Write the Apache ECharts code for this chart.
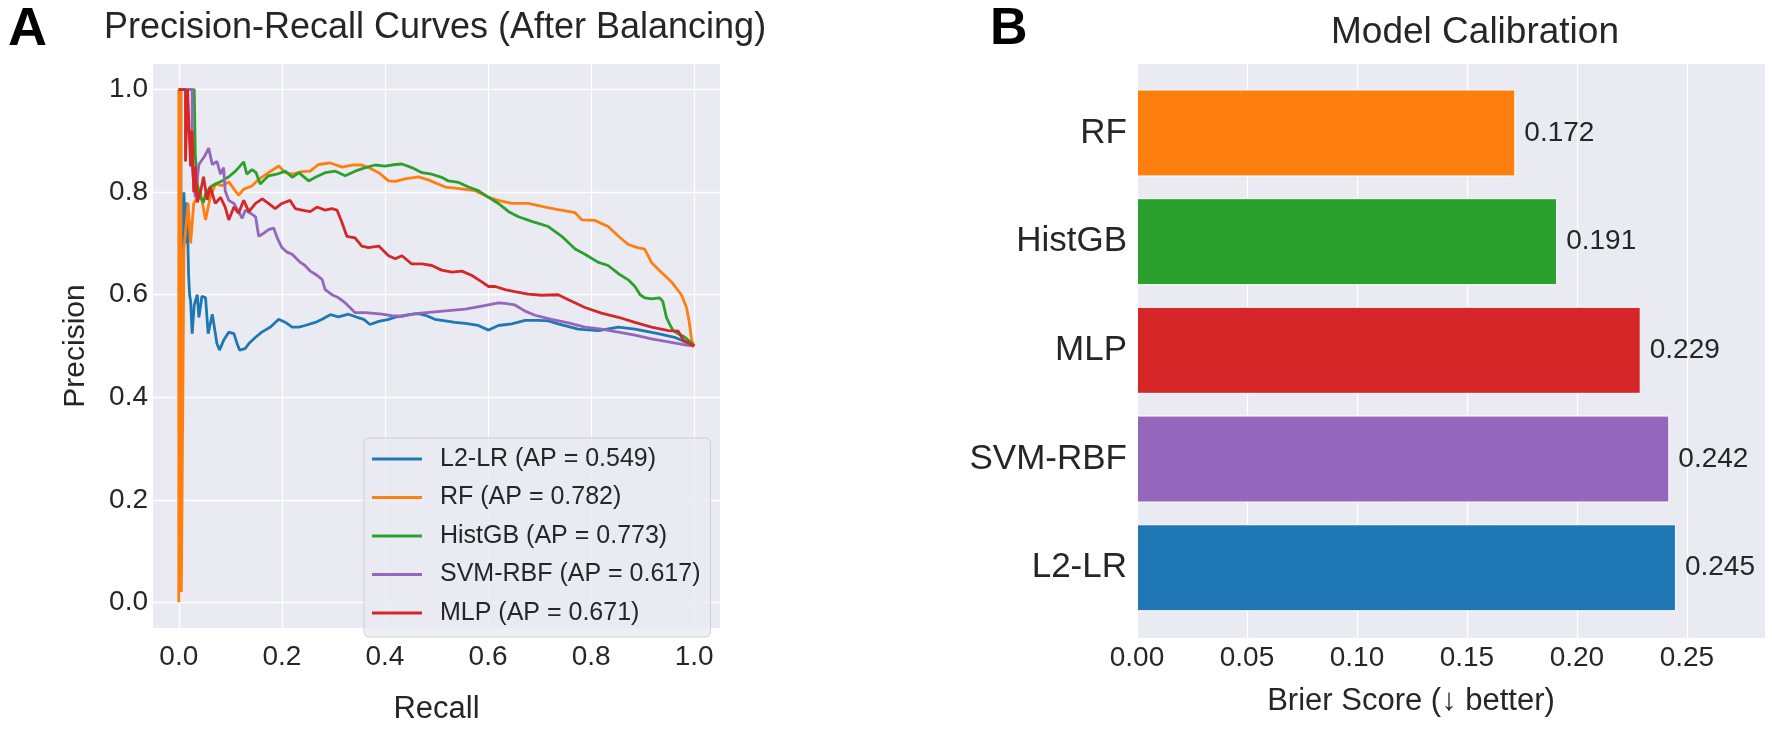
<!DOCTYPE html>
<html>
<head>
<meta charset="utf-8">
<script src="https://cdn.jsdelivr.net/npm/echarts@6/dist/echarts.min.js"></script>
<style>
html,body{margin:0;padding:0;background:#fff;}
#chart{width:1772px;height:730px;}
</style>
</head>
<body>
<div id="chart"></div>
<script>
// ---------- DATA ----------
const prModels = ['L2-LR', 'RF', 'HistGB', 'SVM-RBF', 'MLP'];
const apScores = [0.549, 0.782, 0.773, 0.617, 0.671];
const prTicks = [0, 0.2, 0.4, 0.6, 0.8, 1.0];

// [recall, precision]
const prL2LR = [[0,1.0],[0.004,1.0],[0.004,0.80],[0.007,0.66],[0.010,0.80],[0.013,0.70],[0.016,0.78],[0.019,0.64],[0.021,0.60],[0.023,0.587],[0.026,0.524],[0.030,0.58],[0.036,0.60],[0.039,0.556],[0.045,0.597],[0.052,0.594],[0.057,0.524],[0.065,0.562],[0.074,0.505],[0.079,0.492],[0.087,0.511],[0.097,0.527],[0.107,0.524],[0.113,0.505],[0.118,0.492],[0.129,0.495],[0.136,0.505],[0.149,0.517],[0.161,0.527],[0.178,0.537],[0.194,0.552],[0.207,0.546],[0.220,0.537],[0.233,0.537],[0.245,0.540],[0.265,0.546],[0.278,0.552],[0.294,0.561],[0.310,0.557],[0.329,0.562],[0.346,0.556],[0.359,0.552],[0.371,0.542],[0.388,0.548],[0.407,0.552],[0.423,0.557],[0.446,0.561],[0.465,0.563],[0.481,0.559],[0.497,0.552],[0.517,0.549],[0.536,0.546],[0.556,0.544],[0.581,0.540],[0.601,0.531],[0.620,0.540],[0.646,0.543],[0.672,0.550],[0.698,0.550],[0.717,0.549],[0.736,0.543],[0.775,0.533],[0.814,0.530],[0.853,0.537],[0.885,0.533],[0.930,0.524],[0.962,0.517],[1.0,0.50]];
const prRF = [[0,0],[0,1.0],[0.004,1.0],[0.005,0.02],[0.010,0.689],[0.018,0.778],[0.023,0.70],[0.029,0.778],[0.036,0.79],[0.042,0.80],[0.052,0.746],[0.061,0.79],[0.071,0.816],[0.084,0.813],[0.097,0.82],[0.116,0.794],[0.126,0.806],[0.142,0.812],[0.155,0.825],[0.174,0.838],[0.194,0.851],[0.207,0.838],[0.220,0.835],[0.239,0.840],[0.255,0.841],[0.271,0.854],[0.294,0.857],[0.317,0.849],[0.336,0.853],[0.355,0.853],[0.368,0.848],[0.388,0.838],[0.407,0.822],[0.420,0.821],[0.439,0.826],[0.465,0.830],[0.484,0.824],[0.517,0.810],[0.536,0.808],[0.575,0.803],[0.601,0.790],[0.620,0.784],[0.646,0.778],[0.678,0.778],[0.711,0.771],[0.736,0.766],[0.769,0.760],[0.782,0.746],[0.807,0.745],[0.833,0.733],[0.853,0.714],[0.872,0.698],[0.890,0.692],[0.904,0.689],[0.917,0.663],[0.936,0.644],[0.956,0.625],[0.975,0.600],[0.985,0.575],[0.990,0.549],[0.995,0.511],[1.0,0.50]];
const prHistGB = [[0,1.0],[0.030,1.0],[0.032,0.873],[0.036,0.816],[0.042,0.790],[0.048,0.780],[0.052,0.797],[0.061,0.810],[0.071,0.816],[0.084,0.822],[0.097,0.830],[0.110,0.841],[0.126,0.859],[0.132,0.835],[0.142,0.844],[0.150,0.838],[0.158,0.816],[0.174,0.832],[0.190,0.835],[0.207,0.841],[0.220,0.829],[0.233,0.838],[0.252,0.822],[0.265,0.829],[0.284,0.838],[0.304,0.841],[0.323,0.832],[0.342,0.841],[0.362,0.848],[0.381,0.853],[0.400,0.851],[0.420,0.854],[0.433,0.855],[0.452,0.848],[0.472,0.838],[0.491,0.835],[0.510,0.829],[0.523,0.822],[0.543,0.819],[0.562,0.810],[0.581,0.803],[0.601,0.790],[0.620,0.778],[0.640,0.762],[0.659,0.752],[0.685,0.743],[0.717,0.733],[0.743,0.714],[0.769,0.689],[0.788,0.679],[0.814,0.663],[0.833,0.657],[0.853,0.641],[0.872,0.629],[0.885,0.616],[0.895,0.600],[0.904,0.594],[0.917,0.592],[0.933,0.594],[0.939,0.587],[0.946,0.556],[0.952,0.543],[0.959,0.530],[0.969,0.524],[0.982,0.517],[0.992,0.508],[1.0,0.50]];
const prSVM = [[0,1.0],[0.026,1.0],[0.026,0.848],[0.032,0.79],[0.039,0.854],[0.050,0.870],[0.058,0.886],[0.065,0.854],[0.074,0.860],[0.081,0.835],[0.087,0.848],[0.090,0.803],[0.097,0.784],[0.107,0.778],[0.116,0.762],[0.123,0.749],[0.129,0.765],[0.139,0.759],[0.149,0.752],[0.155,0.714],[0.165,0.720],[0.174,0.727],[0.184,0.730],[0.191,0.711],[0.200,0.692],[0.210,0.683],[0.220,0.679],[0.236,0.663],[0.245,0.657],[0.255,0.646],[0.265,0.640],[0.278,0.630],[0.284,0.610],[0.297,0.600],[0.310,0.594],[0.323,0.584],[0.336,0.571],[0.342,0.565],[0.362,0.565],[0.394,0.562],[0.413,0.559],[0.433,0.558],[0.459,0.563],[0.491,0.566],[0.523,0.569],[0.556,0.572],[0.588,0.578],[0.620,0.584],[0.633,0.583],[0.652,0.580],[0.672,0.568],[0.691,0.560],[0.723,0.552],[0.756,0.545],[0.788,0.537],[0.820,0.533],[0.853,0.527],[0.885,0.521],[0.917,0.514],[0.950,0.508],[0.982,0.502],[1.0,0.50]];
const prMLP = [[0,1.0],[0.013,1.0],[0.013,0.86],[0.017,1.0],[0.019,1.0],[0.021,0.90],[0.023,0.85],[0.026,0.92],[0.029,0.80],[0.032,0.85],[0.036,0.78],[0.042,0.80],[0.048,0.83],[0.055,0.785],[0.061,0.81],[0.071,0.778],[0.081,0.79],[0.090,0.771],[0.097,0.746],[0.107,0.771],[0.116,0.759],[0.126,0.784],[0.136,0.762],[0.149,0.778],[0.162,0.787],[0.174,0.778],[0.187,0.768],[0.200,0.778],[0.216,0.784],[0.226,0.768],[0.239,0.765],[0.255,0.762],[0.268,0.771],[0.284,0.765],[0.297,0.768],[0.307,0.765],[0.317,0.740],[0.326,0.714],[0.342,0.711],[0.355,0.695],[0.368,0.692],[0.388,0.695],[0.407,0.676],[0.420,0.670],[0.433,0.676],[0.452,0.660],[0.472,0.660],[0.491,0.657],[0.510,0.648],[0.530,0.644],[0.549,0.646],[0.568,0.638],[0.588,0.625],[0.601,0.616],[0.614,0.616],[0.633,0.610],[0.652,0.606],[0.678,0.601],[0.704,0.599],[0.736,0.600],[0.756,0.590],[0.788,0.575],[0.820,0.564],[0.853,0.556],[0.885,0.546],[0.917,0.537],[0.950,0.530],[0.969,0.529],[0.979,0.511],[1.0,0.50]];

const calibModels = ['RF', 'HistGB', 'MLP', 'SVM-RBF', 'L2-LR'];
const brierScores = [0.172, 0.191, 0.229, 0.242, 0.245];
const brierTicks = [0, 0.05, 0.10, 0.15, 0.20, 0.25];

// ---------- STYLE ----------
const modelColors = {'L2-LR':'#1f77b4','RF':'#ff7f0e','HistGB':'#2ca02c','SVM-RBF':'#9467bd','MLP':'#d62728'};
const prCurves = [prL2LR, prRF, prHistGB, prSVM, prMLP];
const TXT = '#262626';
const SANS = '"Liberation Sans",Arial,Helvetica,sans-serif';
const BG = '#eaeaf2';

const chart = echarts.init(document.getElementById('chart'), null, {renderer:'canvas'});

const prSeries = prModels.map((m, i) => ({
  type: 'line',
  name: `${m} (AP = ${apScores[i].toFixed(3)})`,
  xAxisIndex: 0, yAxisIndex: 0,
  data: prCurves[i],
  showSymbol: false, symbol: 'none',
  clip: false,
  lineStyle: {width: 2.8, color: modelColors[m]},
  itemStyle: {color: modelColors[m]},
  z: 3 + i
}));

const option = {
  backgroundColor: '#fff',
  animation: false,
  title: [
    {text: 'A', left: 3, top: -2, textStyle: {fontFamily: SANS, fontWeight: 'bold', fontSize: 54, color: '#000'}},
    {text: 'Precision-Recall Curves (After Balancing)', left: 430, top: 5, textAlign: 'center', textStyle: {fontFamily: SANS, fontWeight: 'normal', fontSize: 36, color: TXT}},
    {text: 'B', left: 985, top: -1, textStyle: {fontFamily: SANS, fontWeight: 'bold', fontSize: 52, color: '#000'}},
    {text: 'Model Calibration', left: 1470, top: 9, textAlign: 'center', textStyle: {fontFamily: SANS, fontWeight: 'normal', fontSize: 37, color: TXT}}
  ],
  legend: {
    orient: 'vertical', left: 364, top: 438,
    data: prSeries.map(s => s.name),
    icon: 'rect',
    itemWidth: 50, itemHeight: 3, itemGap: 8.5,
    padding: [6, 10, 9, 8],
    backgroundColor: 'rgba(234,234,242,0.8)', borderColor: '#cfcfd4', borderWidth: 1, borderRadius: 5,
    textStyle: {fontFamily: SANS, fontSize: 25, color: TXT, lineHeight: 30, padding: [0, 0, 0, 13]}
  },
  grid: [
    {left: 153, top: 64, width: 567, height: 577, show: true, backgroundColor: BG, borderWidth: 0, containLabel: false},
    {left: 1137, top: 64, width: 628, height: 574, show: true, backgroundColor: BG, borderWidth: 0, containLabel: false},
    {left: 1137, top: 78.6, width: 628, height: 543.5, show: false, containLabel: false}
  ],
  xAxis: [
    {type: 'value', gridIndex: 0, min: -0.05, max: 1.05,
     name: 'Recall', nameLocation: 'middle', nameGap: 66,
     nameTextStyle: {fontFamily: SANS, fontSize: 31, color: TXT},
     axisLine: {show: false}, axisTick: {show: false, customValues: prTicks},
     axisLabel: {customValues: prTicks, formatter: v => v.toFixed(1), fontFamily: SANS, fontSize: 28, color: TXT, margin: 15},
     splitLine: {show: true, lineStyle: {color: '#fff', width: 1.3}}},
    {type: 'value', gridIndex: 1, min: 0, max: 0.2855,
     name: 'Brier Score (↓ better)', nameLocation: 'middle', nameGap: 48,
     nameTextStyle: {fontFamily: SANS, fontSize: 31, color: TXT, padding: [0, 80, 0, 0]},
     axisLine: {show: false}, axisTick: {show: false, customValues: brierTicks},
     axisLabel: {customValues: brierTicks, formatter: v => v.toFixed(2), fontFamily: SANS, fontSize: 28, color: TXT, margin: 6},
     splitLine: {show: true, lineStyle: {color: '#fff', width: 1.3}}},
    {type: 'value', gridIndex: 2, min: 0, max: 0.2855, show: false}
  ],
  yAxis: [
    {type: 'value', gridIndex: 0, min: -0.05, max: 1.05,
     name: 'Precision', nameLocation: 'middle', nameGap: 62, nameRotate: 90,
     nameTextStyle: {fontFamily: SANS, fontSize: 30, color: TXT},
     axisLine: {show: false}, axisTick: {show: false, customValues: prTicks},
     axisLabel: {customValues: prTicks, formatter: v => v.toFixed(1), fontFamily: SANS, fontSize: 28, color: TXT, margin: 5},
     splitLine: {show: true, lineStyle: {color: '#fff', width: 1.3}}},
    {type: 'value', gridIndex: 1, min: 0, max: 1, show: false},
    {type: 'category', gridIndex: 2, data: calibModels, inverse: true,
     axisLine: {show: false}, axisTick: {show: false},
     axisLabel: {fontFamily: SANS, fontSize: 35, color: TXT, margin: 10},
     splitLine: {show: false}}
  ],
  series: [
    ...prSeries,
    {
      type: 'bar', xAxisIndex: 2, yAxisIndex: 2,
      barWidth: '80%',
      data: brierScores.map((v, i) => ({value: v, itemStyle: {color: modelColors[calibModels[i]]}})),
      itemStyle: {borderColor: '#ffffff', borderWidth: 1},
      label: {show: true, position: 'right', distance: 9, formatter: p => p.value.toFixed(3), fontFamily: SANS, fontSize: 28, color: TXT},
      z: 3
    }
  ]
};
chart.setOption(option);
</script>
</body>
</html>
